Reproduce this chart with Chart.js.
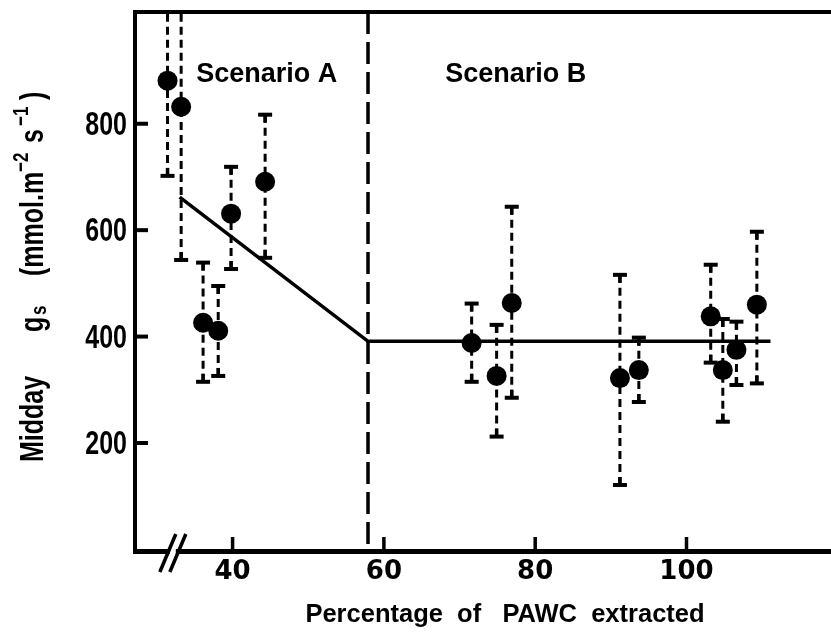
<!DOCTYPE html>
<html>
<head>
<meta charset="utf-8">
<script src="https://cdn.jsdelivr.net/npm/chart.js@4.4.1/dist/chart.umd.min.js"></script>
<style>
    html, body { margin: 0; padding: 0; background: #fff; }
    canvas { display: block; }
</style>
</head>
<body>
<canvas id="grafico-gs" width="831" height="632"></canvas>
<script>
/* ===== DADOS ===== */

// % da PAWC extraída e gs ao meio-dia (mmol m-2 s-1), com limites das barras de erro
const pawc    = [31.4, 33.2, 36.1, 38.1, 39.8, 44.3, 71.6, 74.9, 76.9, 91.2, 93.7, 103.2, 104.8, 106.6, 109.3];
const gsMedio = [881, 832, 426, 411, 631, 691, 388, 326, 463, 322, 337, 438, 337, 375, 460];
const gsSup   = [1080, 1080, 539, 495, 719, 817, 462, 422, 644, 516, 398, 535, 433, 428, 597];
const gsInf   = [702, 544, 315, 326, 527, 548, 315, 212, 285, 121, 277, 351, 240, 309, 312];

// reta ajustada (dois segmentos)
const ajusteX = [33.0, 57.9, 111.1];
const ajusteY = [662, 391, 391];

// limite entre cenários e quebra do eixo x
const limiteCenario = 57.9;
const quebraEixo = 32.1;

const cenarios = ['Scenario A', 'Scenario B'];
const cenarioX = [35.2, 68.1];
const cenarioY = 879;

const xTicks = [40, 60, 80, 100];
const yTicks = [200, 400, 600, 800];
const xMin = 27.1, xMax = 119.1;
const yMin = -3, yMax = 1010;

/* ===== DESENHO EXTRA ===== */

function desenharBarrasErro(chart) {
    const { ctx, chartArea: a, scales: { x, y } } = chart;
    ctx.save();
    ctx.beginPath();
    ctx.rect(a.left, a.top, a.right - a.left, a.bottom - a.top);
    ctx.clip();
    ctx.strokeStyle = '#000';

    pawc.forEach((v, i) => {
        const px = x.getPixelForValue(v);
        const pMed = y.getPixelForValue(gsMedio[i]);
        const pSup = y.getPixelForValue(gsSup[i]);
        const pInf = y.getPixelForValue(gsInf[i]);

        ctx.lineWidth = 3;
        ctx.setLineDash([8, 5]);
        ctx.beginPath(); ctx.moveTo(px, pSup); ctx.lineTo(px, pMed); ctx.stroke();
        ctx.beginPath(); ctx.moveTo(px, pInf); ctx.lineTo(px, pMed); ctx.stroke();
        ctx.setLineDash([]);

        [[pSup, 1], [pInf, -1]].forEach(([p, dir]) => {
            if (p < a.top || p > a.bottom) return;
            ctx.lineWidth = 4;
            ctx.beginPath(); ctx.moveTo(px - 7, p); ctx.lineTo(px + 7, p); ctx.stroke();
            ctx.lineWidth = 3.5;
            ctx.beginPath(); ctx.moveTo(px, p); ctx.lineTo(px, p + dir * 8); ctx.stroke();
        });
    });
    ctx.restore();
}

function desenharTituloY(ctx) {
    // partes do título com sub/sobrescritos: [texto, tamanho, deslocamento, posição]
    const partes = [
        ['Midday', 25, 0, 0],
        ['g', 25, 0, 130],
        ['s', 17, 3, 147],
        ['(mmol.m', 25, 0, 186],
        ['\u22122', 17, -15, 290],
        ['s', 25, 0, 319],
        ['\u22121', 17, -15, 336],
        [')', 25, 0, 362]
    ];
    ctx.save();
    ctx.translate(43, 462);
    ctx.rotate(-Math.PI / 2);
    ctx.fillStyle = '#000';
    ctx.textBaseline = 'alphabetic';
    ctx.textAlign = 'left';
    partes.forEach(([t, tam, dy, u]) => {
        ctx.save();
        ctx.translate(u, dy);
        ctx.scale(1, 1.3);
        ctx.font = 'bold ' + tam + 'px "Liberation Sans", Arial, sans-serif';
        ctx.fillText(t, 0, 0);
        ctx.restore();
    });
    ctx.restore();
}

const pluginDesenho = {
    id: 'desenho',
    beforeDatasetsDraw(chart) {
        desenharBarrasErro(chart);
    },
    afterDraw(chart) {
        const { ctx, chartArea: a, scales: { x, y } } = chart;
        ctx.save();
        ctx.strokeStyle = '#000';
        ctx.fillStyle = '#000';

        // borda superior
        ctx.lineWidth = 4;
        ctx.beginPath(); ctx.moveTo(a.left - 2, a.top); ctx.lineTo(chart.width, a.top); ctx.stroke();

        // marcas para dentro
        ctx.lineWidth = 4;
        yTicks.forEach(v => {
            const p = y.getPixelForValue(v);
            ctx.beginPath(); ctx.moveTo(a.left, p); ctx.lineTo(a.left + 13, p); ctx.stroke();
        });
        ctx.lineWidth = 3.5;
        xTicks.forEach(v => {
            const p = x.getPixelForValue(v);
            ctx.beginPath(); ctx.moveTo(p, a.bottom); ctx.lineTo(p, a.bottom - 14); ctx.stroke();
        });

        // rótulos do eixo y (fonte estreita e alta, como no original)
        ctx.font = 'bold 25px "Liberation Sans", Arial, sans-serif';
        ctx.textAlign = 'right';
        ctx.textBaseline = 'middle';
        yTicks.forEach(v => {
            ctx.save();
            ctx.translate(a.left - 8, y.getPixelForValue(v) + 2);
            ctx.scale(1, 1.35);
            ctx.fillText(String(v), 0, 0);
            ctx.restore();
        });

        // quebra do eixo x
        const bx = x.getPixelForValue(quebraEixo);
        const by = a.bottom;
        ctx.fillStyle = '#fff';
        ctx.fillRect(bx - 3, by - 4, 6, 8);
        ctx.fillStyle = '#000';
        ctx.lineWidth = 3.5;
        [-5, 5].forEach(off => {
            ctx.beginPath();
            ctx.moveTo(bx + off + 8, by - 17);
            ctx.lineTo(bx + off - 8, by + 21);
            ctx.stroke();
        });

        // rótulos dos cenários
        ctx.font = 'bold 27px "Liberation Sans", Arial, sans-serif';
        ctx.textAlign = 'left';
        ctx.textBaseline = 'alphabetic';
        cenarios.forEach((t, i) => {
            ctx.fillText(t, x.getPixelForValue(cenarioX[i]), y.getPixelForValue(cenarioY));
        });

        // título do eixo x
        ctx.font = 'bold 25.5px "Liberation Sans", Arial, sans-serif';
        ctx.textAlign = 'center';
        ctx.fillText('Percentage  of   PAWC  extracted', 505, 622);

        desenharTituloY(ctx);
        ctx.restore();
    }
};

/* ===== GRÁFICO ===== */

const ctx = document.getElementById('grafico-gs');

new Chart(ctx, {
    type: 'scatter',
    data: {
        datasets: [
            {
                label: 'gs',
                data: pawc.map((v, i) => ({ x: v, y: gsMedio[i] })),
                pointRadius: 10,
                pointBackgroundColor: '#000',
                pointBorderWidth: 0,
                order: 0
            },
            {
                label: 'ajuste',
                type: 'line',
                data: ajusteX.map((v, i) => ({ x: v, y: ajusteY[i] })),
                borderColor: '#000',
                borderWidth: 3.5,
                pointRadius: 0,
                tension: 0,
                order: 1
            },
            {
                label: 'limite',
                type: 'line',
                data: [{ x: limiteCenario, y: yMax }, { x: limiteCenario, y: yMin }],
                borderColor: '#000',
                borderWidth: 3.5,
                borderDash: [22, 8],
                pointRadius: 0,
                order: 2
            }
        ]
    },
    options: {
        responsive: false,
        animation: false,
        layout: { autoPadding: false, padding: { top: 12, right: 0, left: 0, bottom: 0 } },
        plugins: {
            legend: { display: false },
            tooltip: { enabled: false }
        },
        scales: {
            x: {
                type: 'linear',
                min: xMin,
                max: xMax,
                afterBuildTicks: s => { s.ticks = xTicks.map(v => ({ value: v })); },
                afterFit: s => { s.height = 81; },
                grid: { display: false, drawTicks: false },
                border: { display: true, color: '#000', width: 5 },
                ticks: {
                    color: '#000',
                    padding: 6,
                    maxRotation: 0,
                    autoSkip: false,
                    font: { family: '"DejaVu Sans", sans-serif', weight: 'bold', size: 26 }
                }
            },
            y: {
                type: 'linear',
                min: yMin,
                max: yMax,
                afterBuildTicks: s => { s.ticks = yTicks.map(v => ({ value: v })); },
                afterFit: s => { s.width = 135; },
                grid: { display: false, drawTicks: false },
                border: { display: true, color: '#000', width: 4 },
                ticks: { display: false }
            }
        }
    },
    plugins: [pluginDesenho]
});
</script>
</body>
</html>
